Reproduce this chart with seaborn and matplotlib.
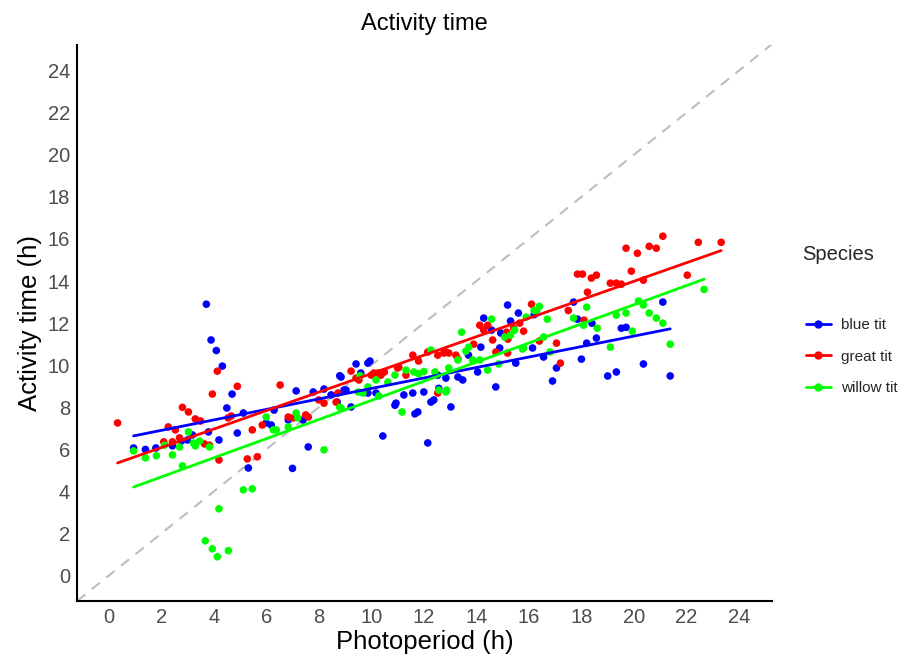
import matplotlib
matplotlib.use("Agg")
import matplotlib.pyplot as plt
import seaborn as sns
import pandas as pd
import numpy as np
from matplotlib.lines import Line2D

species_names = ["blue tit", "great tit", "willow tit"]
palette = {"blue tit": "#0000FF", "great tit": "#FF0000", "willow tit": "#00FF00"}

blue_x = [0.95,1.4,1.8,2.43,2.77,3.0,3.19,3.8,4.2,3.72,3.9,4.1,4.33,4.7,4.5,4.9,5.13,5.32,6.0,6.19,6.3,7.0,7.14,6.84,7.4,7.79,8.2,8.47,8.8,9.42,9.87,9.95,9.6,9.04,9.23,10.44,7.6,10.94,11.24,11.58,12.0,11.77,11.66,12.15,12.38,12.27,9.87,10.18,15.19,15.6,14.28,15.3,14.58,14.93,14.17,13.7,14.89,13.48,13.3,12.84,12.53,14.05,15.5,16.14,16.56,17.05,16.9,14.74,13.03,17.85,18.4,18.2,18.0,19.0,18.57,21.1,19.52,19.7,21.38,20.36,19.33,17.7,16.2,10.9,12.57,8.85,8.7,8.96]
blue_y = [6.07,6.0,6.07,6.17,6.4,6.45,6.69,6.83,6.45,12.9,11.2,10.7,9.96,8.63,7.97,6.78,7.73,5.12,7.26,7.16,7.87,5.1,8.78,7.4,7.4,8.73,8.87,8.59,9.5,10.06,10.1,10.2,9.63,8.82,8.02,6.64,6.12,8.2,8.59,8.68,8.73,7.78,7.69,6.31,8.35,8.25,8.68,8.68,12.86,12.48,12.24,12.1,11.67,11.53,10.86,10.48,10.82,9.3,9.44,9.39,9.53,9.68,10.1,10.82,10.39,9.87,9.25,8.97,8.02,12.19,12.0,11.05,10.29,9.49,11.29,13.0,11.76,11.8,9.49,10.06,9.68,13.0,12.4,8.1,8.9,9.44,8.25,8.82]

red_x = [0.34,2.1,2.27,2.43,2.54,2.7,2.81,3.04,3.3,3.5,3.84,3.95,4.2,4.14,4.9,4.67,4.55,5.28,5.66,5.47,5.85,6.53,6.84,7.03,7.6,8.2,9.23,9.53,8.73,8.66,11.58,12.15,12.76,11.05,11.32,10.37,10.1,12.53,16.1,15.65,14.13,14.43,14.28,15.42,15.15,15.8,14.62,13.9,13.22,12.84,12.53,14.74,15.19,16.4,17.05,17.2,17.5,18.1,21.1,19.7,20.13,20.58,20.85,22.45,23.32,19.9,22.03,17.85,18.04,18.38,18.57,19.1,19.33,19.52,20.36,18.23,8.0,3.65,11.8,11.0,10.5,10.26,10.0,9.42,12.95,13.3,7.5,15.2]
red_y = [7.26,6.36,7.07,6.36,6.93,6.55,8.0,7.78,7.45,7.35,6.2,8.63,5.5,9.72,9.0,7.59,7.5,5.55,5.65,6.93,7.16,9.06,7.54,7.5,7.54,8.2,9.72,9.3,8.68,8.25,10.48,10.63,10.58,9.91,9.53,9.53,9.63,8.68,12.9,12.0,11.9,11.9,11.67,11.76,11.57,11.62,11.2,11.0,10.48,10.63,10.48,10.63,10.58,11.15,11.05,10.1,12.6,12.14,16.13,15.56,15.32,15.65,15.56,15.84,15.84,14.47,14.28,14.33,14.33,14.14,14.28,13.9,13.9,13.85,14.04,13.47,8.35,6.26,10.2,9.87,9.68,9.63,9.53,9.39,10.58,10.3,7.64,11.24]

green_x = [0.95,1.4,1.82,2.13,2.43,2.7,2.81,3.04,3.23,3.3,3.46,3.84,3.68,3.95,4.14,4.56,4.2,5.13,5.47,6.0,6.27,7.14,6.38,6.84,9.57,8.85,8.2,11.17,12.57,12.84,12.27,10.9,11.32,11.62,12.42,10.18,10.63,9.87,9.5,9.68,10.29,16.4,14.58,15.9,16.3,16.7,13.44,15.46,15.3,15.08,13.71,13.6,13.3,13.86,14.13,12.95,14.43,14.85,15.76,16.56,16.8,12.87,17.7,18.2,18.6,19.1,22.67,20.17,20.36,19.7,19.33,20.58,20.85,21.1,18.08,19.94,21.38,16.2,15.8,8.8,7.2,11.8,12.0]
green_y = [5.93,5.6,5.7,6.2,5.74,6.12,5.22,6.83,6.3,6.17,6.4,6.12,1.66,1.28,0.9,1.19,3.18,4.08,4.13,7.54,6.93,7.73,6.93,7.07,9.5,7.97,5.98,7.78,8.82,8.73,10.72,9.53,9.77,9.68,9.68,9.3,9.2,8.97,8.73,8.68,8.54,12.8,12.19,12.29,12.6,12.19,11.57,11.67,11.43,11.34,10.86,10.67,10.25,10.25,10.25,9.87,9.77,10.06,10.77,11.34,10.63,8.82,12.24,12.76,11.76,10.86,13.6,13.05,12.86,12.48,12.38,12.48,12.24,12.0,11.9,11.62,11.0,12.6,10.82,8.0,7.5,9.6,9.7]

x_ticks = list(range(0, 25, 2))
y_ticks = list(range(0, 25, 2))

df = pd.concat([
    pd.DataFrame({"Photoperiod": blue_x, "Activity": blue_y, "Species": "blue tit"}),
    pd.DataFrame({"Photoperiod": red_x, "Activity": red_y, "Species": "great tit"}),
    pd.DataFrame({"Photoperiod": green_x, "Activity": green_y, "Species": "willow tit"}),
], ignore_index=True)

sns.set_theme(style="white")
plt.rcParams["font.family"] = ["Liberation Sans", "DejaVu Sans"]

fig = plt.figure(figsize=(9.07, 6.66), dpi=100)
ax = fig.add_axes([0.085, 0.0976, 0.766, 0.8344])

lims = (-1.2, 25.25)
ax.plot(lims, lims, color="#bdbdbd", lw=1.5, ls=(0, (5, 4)), zorder=1)

sns.scatterplot(data=df, x="Photoperiod", y="Activity", hue="Species", palette=palette,
                s=30, edgecolor="none", legend=False, ax=ax, zorder=2)
for sp in species_names:
    sub = df[df["Species"] == sp]
    sns.regplot(data=sub, x="Photoperiod", y="Activity", scatter=False, ci=None,
                truncate=True, color=palette[sp], line_kws={"lw": 2, "zorder": 3}, ax=ax)

ax.set_xlim(lims)
ax.set_ylim(-1.2, 25.2)
ax.set_xticks(x_ticks)
ax.set_yticks(y_ticks)
ax.tick_params(axis="both", length=0, labelsize=14.5, labelcolor="#4d4d4d", pad=5)
for s in ["top", "right"]:
    ax.spines[s].set_visible(False)
for s in ["left", "bottom"]:
    ax.spines[s].set_color("black")
    ax.spines[s].set_linewidth(1.5)
ax.set_xlabel("Photoperiod (h)", fontsize=18.5, color="black", labelpad=2)
ax.set_ylabel("Activity time (h)", fontsize=18.5, color="black", labelpad=4)
ax.set_title("Activity time", fontsize=17, color="black", pad=11)

handles = [Line2D([0], [0], color=palette[sp], lw=2, marker="o", markersize=5) for sp in species_names]
leg = fig.legend(handles, species_names, title="Species", loc="center left",
                 bbox_to_anchor=(0.882, 0.492), frameon=False, fontsize=11,
                 title_fontsize=14.5, handlelength=1.6, handletextpad=0.7,
                 labelspacing=1.15, borderaxespad=0)
leg._legend_box.align = "left"
leg.get_title().set_position((-4, 36))

fig.savefig("out.png", dpi=100)
